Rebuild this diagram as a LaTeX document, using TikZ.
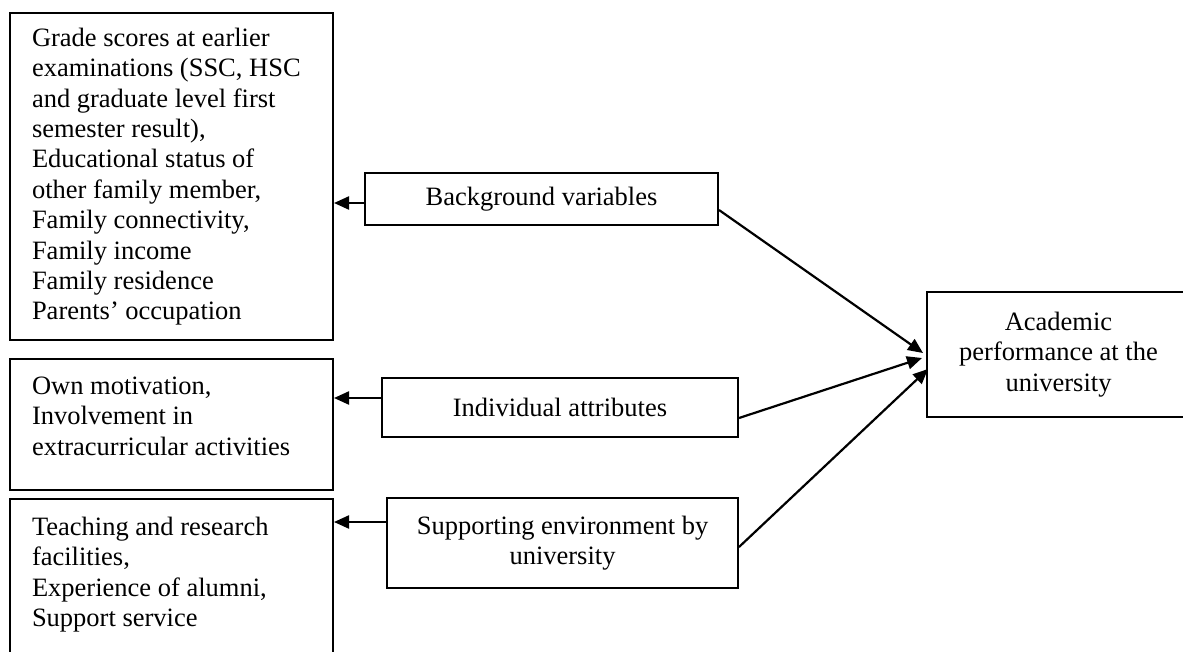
\documentclass[tikz,border=0pt]{standalone}
\usepackage{fontspec}
\setmainfont{Liberation Serif}
\usetikzlibrary{arrows.meta,calc}
\newcommand\diagfs{\fontsize{26.5}{30.4}\selectfont}
\tikzset{
  boxstyle/.style={draw, line width=2pt, inner sep=0pt, font=\diagfs},
  cbox/.style={boxstyle, align=center},
  conn/.style={line width=2.2pt, -{Triangle[length=15pt,width=13pt]}}
}
\begin{document}
\begin{tikzpicture}[x=1pt,y=-1pt]
\clip (0,0) rectangle (1183,651);
\fill[white] (0,0) rectangle (1183,651);

% left boxes
\node[boxstyle, minimum width=323pt, minimum height=327pt] (ga) at (171.5,176.5)
  {\parbox[c][297pt][t]{279pt}{\raggedright Grade scores at earlier\\ examinations (SSC, HSC\\ and graduate level first\\ semester result),\\ Educational status of\\ other family member,\\ Family connectivity,\\ Family income\\ Family residence\\ Parents’ occupation}};
\node[boxstyle, minimum width=323pt, minimum height=131pt] (gb) at (171.5,424.5)
  {\parbox[c][95pt][t]{279pt}{\raggedright Own motivation,\\ Involvement in\\ extracurricular activities}};
\node[boxstyle, minimum width=323pt, minimum height=181pt] (gc) at (171.5,589.5)
  {\parbox[c][145pt][t]{279pt}{\raggedright Teaching and research\\ facilities,\\ Experience of alumni,\\ Support service}};

% middle boxes
\node[cbox, minimum width=353pt, minimum height=52pt] (bg) at (541.5,199) {Background variables};
\node[cbox, minimum width=356pt, minimum height=59pt] (ind) at (560,407.5) {Individual attributes};
\node[cbox, minimum width=351pt, minimum height=90pt] (sup) at (562.5,543) {Supporting environment by\\ university};

% right box
\node[cbox, minimum width=263pt, minimum height=125pt] (acad) at (1058.5,354.5) {Academic\\ performance at the\\ university};

% connector end points
\coordinate (bgL) at ($(bg.west)+(0,4)$);
\coordinate (indL) at ($(ind.west)+(0,-9.5)$);
\coordinate (supL) at ($(sup.west)+(0,-21)$);
\coordinate (bgR) at ($(bg.east)+(0,11)$);
\coordinate (indR) at ($(ind.east)+(0,10.5)$);
\coordinate (supR) at ($(sup.east)+(0,4)$);
\coordinate (t1) at ($(acad.west)+(-3,-1.5)$);
\coordinate (t2) at ($(acad.west)+(-4,3.5)$);
\coordinate (t3) at ($(acad.west)+(2,14.5)$);

% connectors to the left
\draw[conn] (bgL) -- (bgL -| ga.east);
\draw[conn] (indL) -- (indL -| gb.east);
\draw[conn] (supL) -- (supL -| gc.east);

% connectors to the right
\draw[conn] (bgR) -- (t1);
\draw[conn] (indR) -- (t2);
\draw[conn] (supR) -- (t3);
\end{tikzpicture}
\end{document}
